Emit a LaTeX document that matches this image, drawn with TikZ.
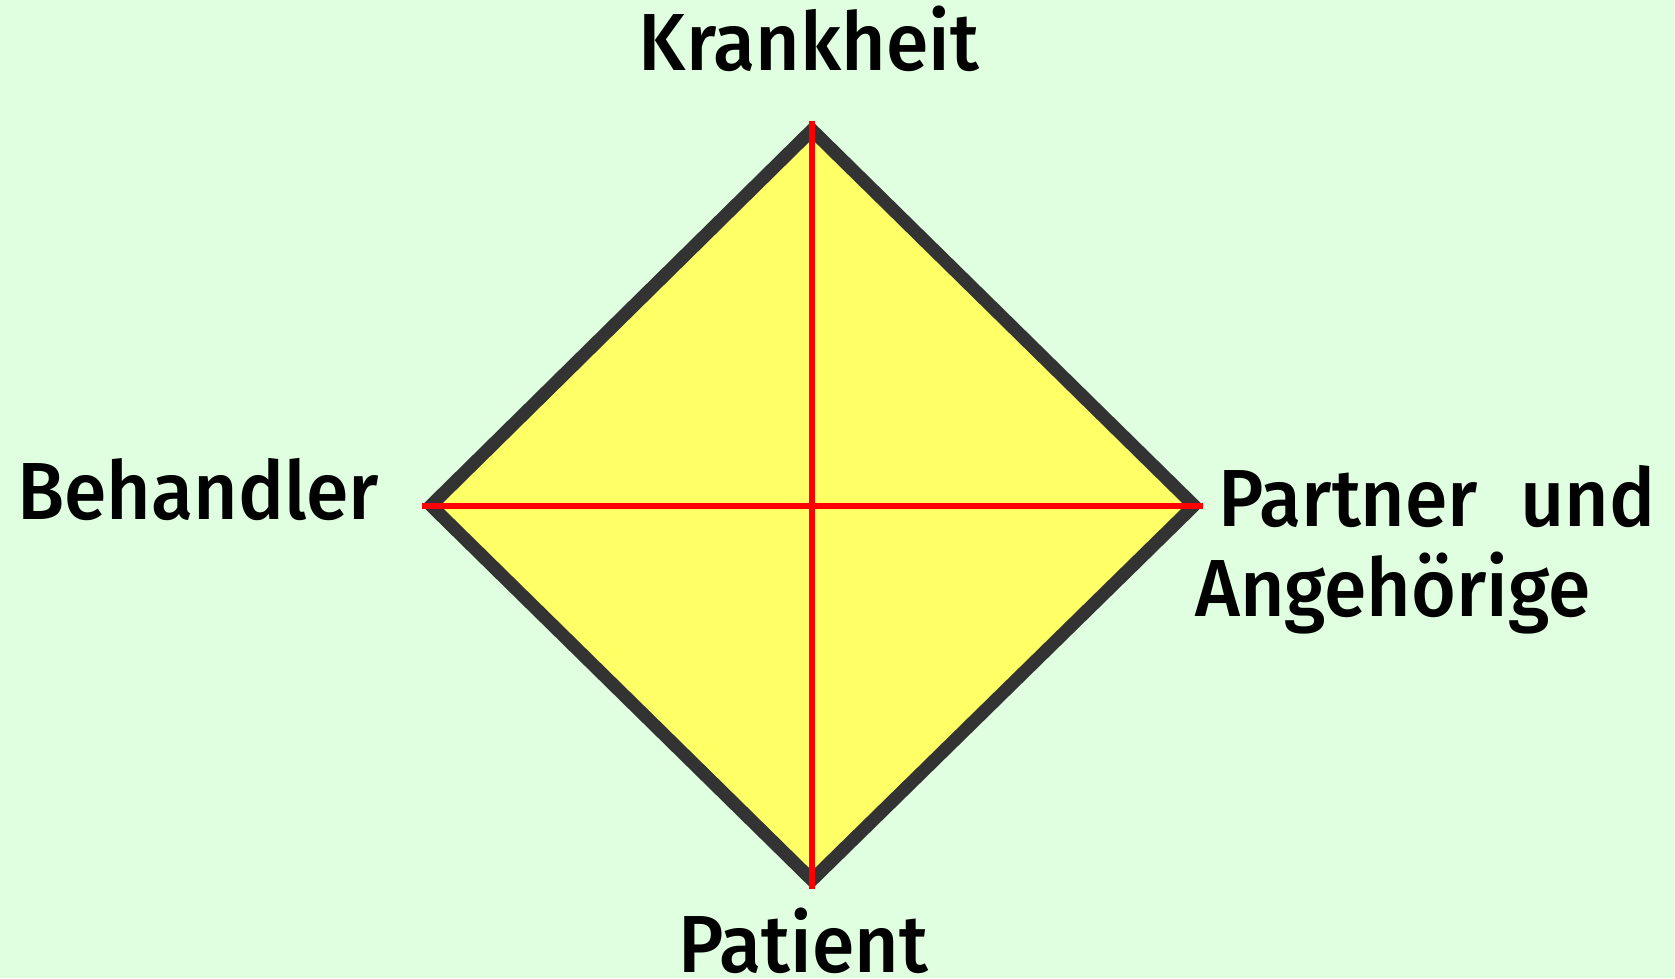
\documentclass[tikz,border=0pt]{standalone}
\usepackage{fontspec}
\setmainfont{Fira Sans}[BoldFont=* Medium, FakeStretch=0.95]
\definecolor{bg}{HTML}{E0FFE0}
\definecolor{fillyel}{HTML}{FFFF66}
\definecolor{edge}{HTML}{333333}
\definecolor{cross}{HTML}{FF0000}
\begin{document}
\begin{tikzpicture}[x=1pt,y=-1pt,
  lbl/.style={inner sep=0pt, font=\fontsize{81}{90}\selectfont\bfseries, text=black},
  rim/.style={draw=edge, line width=13pt, line join=miter, fill=fillyel},
  crossline/.style={draw=cross, line width=6pt}]
\fill[bg] (0,0) rectangle (1675,978);
\useasboundingbox (0,0) rectangle (1675,978);
% tips
\coordinate (T) at (812,121);
\coordinate (R) at (1203,505.5);
\coordinate (B) at (812,889);
\coordinate (L) at (422,505.5);
% inset corners for the stroked outline
\coordinate (Ti) at (812,130);
\coordinate (Ri) at (1194,505.5);
\coordinate (Bi) at (812,880);
\coordinate (Li) at (431,505.5);
\path[rim] (Ti) -- (Ri) -- (Bi) -- (Li) -- cycle;
\draw[crossline] (T) -- (B);
\draw[crossline] (L) -- (R);
\node[lbl, anchor=base] (krank) at (809,70) {Krankheit};
\node[lbl, anchor=base west] (behandler) at (17,519) {Behandler};
\node[lbl, anchor=base] (patient) at (803,972) {Patient};
\node[lbl, anchor=north west, align=left] (partner) at (1195,465) {\hspace*{23pt}\makebox[437pt][s]{Partner\hfill und}\\Angehörige};
\end{tikzpicture}
\end{document}
